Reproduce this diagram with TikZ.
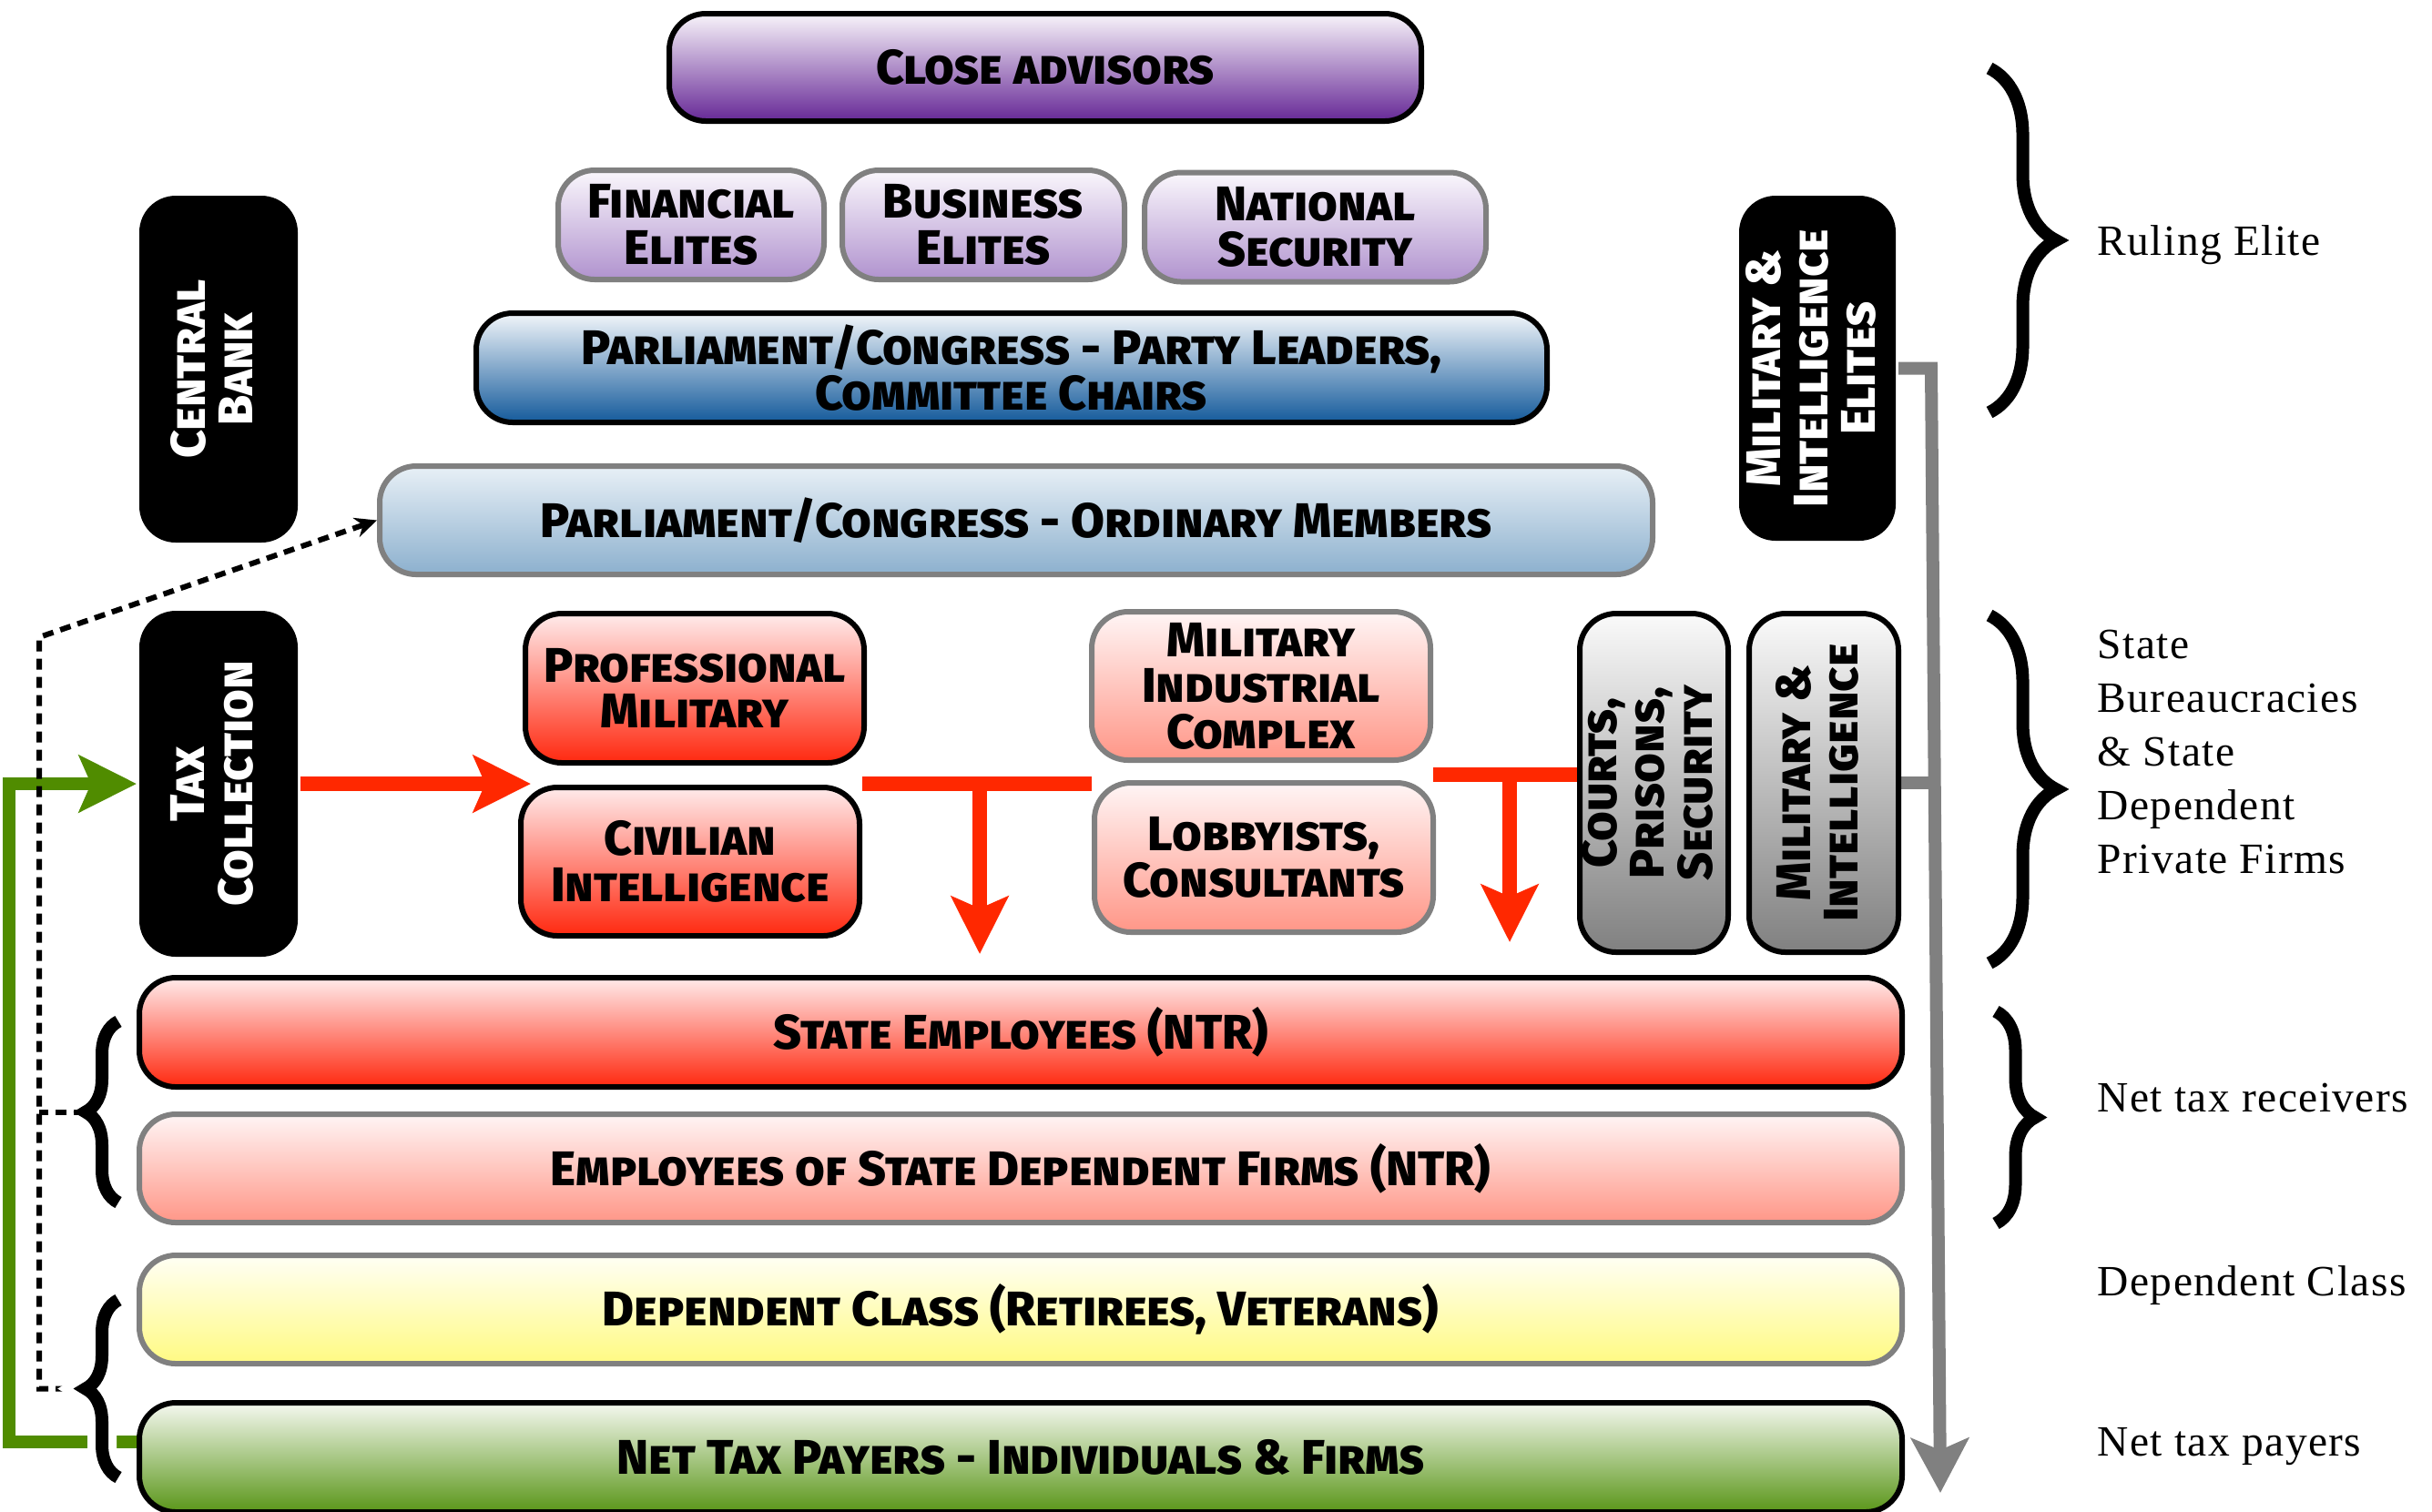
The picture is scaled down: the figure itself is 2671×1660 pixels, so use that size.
\documentclass[tikz,border=0pt]{standalone}
\usepackage{fontspec}
\usepackage{tikz}
\usetikzlibrary{arrows.meta, backgrounds, decorations.pathreplacing}

\IfFontExistsTF{Fira Sans ExtraBold}
  {\newfontfamily\boxfont{Fira Sans ExtraBold}[Letters=SmallCaps]}
  {\newfontfamily\boxfont{Fira Sans}[Letters=SmallCaps, UprightFont={* Bold}]}
\newfontfamily\sidefont{Liberation Serif}[LetterSpace=3]
\newcommand{\tiertext}{\boxfont\fontsize{15.2}{14.4}\selectfont}
\newcommand{\sidetext}{\sidefont\fontsize{13.5}{16.8}\selectfont}
\newcommand{\vlabel}[1]{\rotatebox{90}{\begin{tabular}{@{}c@{}}#1\end{tabular}}}

\definecolor{edgegray}{RGB}{128,128,128}
\definecolor{arrowred}{RGB}{255,40,0}
\definecolor{arrowgreen}{RGB}{80,140,0}
\definecolor{purpletop}{RGB}{248,244,250}
\definecolor{purplebot}{RGB}{102,40,150}
\definecolor{lavtop}{RGB}{250,247,252}
\definecolor{lavbot}{RGB}{176,146,206}
\definecolor{bluetop}{RGB}{242,246,250}
\definecolor{bluebot}{RGB}{20,90,155}
\definecolor{paletop}{RGB}{232,240,246}
\definecolor{palebot}{RGB}{140,176,206}
\definecolor{redtop}{RGB}{255,235,235}
\definecolor{redbot}{RGB}{255,40,15}
\definecolor{pinktop}{RGB}{255,245,245}
\definecolor{pinkbot}{RGB}{255,150,135}
\definecolor{graytop}{RGB}{250,250,250}
\definecolor{graybot}{RGB}{128,128,128}
\definecolor{yellowtop}{RGB}{255,255,245}
\definecolor{yellowbot}{RGB}{255,250,130}
\definecolor{greentop}{RGB}{245,248,240}
\definecolor{greenbot}{RGB}{90,150,25}

\tikzset{
  tier/.style={rounded corners=4mm, line width=0.6mm, inner sep=0pt, align=center, font=\tiertext, text=black},
  darkedge/.style={draw=black},
  softedge/.style={draw=edgegray},
  pillar/.style={tier, fill=black, draw=none, text=white},
  purpletier/.style={top color=purpletop, bottom color=purplebot},
  lavtier/.style={top color=lavtop, bottom color=lavbot},
  bluetier/.style={top color=bluetop, bottom color=bluebot},
  paletier/.style={top color=paletop, bottom color=palebot},
  redtier/.style={top color=redtop, bottom color=redbot},
  pinktier/.style={top color=pinktop, bottom color=pinkbot},
  graytier/.style={top color=graytop, bottom color=graybot},
  yellowtier/.style={top color=yellowtop, bottom color=yellowbot},
  greentier/.style={top color=greentop, bottom color=greenbot},
  bracestroke/.style={draw=black, line width=1.4mm, decorate, decoration={brace, amplitude=#1}},
  sidelabel/.style={anchor=west, inner sep=0pt, align=left, font=\sidetext},
  redline/.style={draw=arrowred, line width=1.6mm},
  redarrow/.style={redline, -{Stealth[length=6.3mm, width=6.2mm, inset=1.3mm]}},
  greenarrow/.style={draw=arrowgreen, line width=1.4mm, -{Stealth[length=6.3mm, width=6.2mm, inset=1.3mm]}},
  grayline/.style={draw=edgegray, line width=1.4mm},
  grayarrow/.style={grayline, -{Stealth[length=6mm, width=6.3mm, inset=1.3mm]}},
  dotline/.style={draw=black, line width=0.6mm, dash pattern=on 1.2mm off 0.8mm},
  dotarrow/.style={dotline, -{Stealth[length=2.4mm, width=2.2mm]}}
}

\begin{document}
\begin{tikzpicture}[x=0.1mm, y=-0.1mm]
\useasboundingbox (0,0) rectangle (2671,1660);

% ruling elite
\node[tier, darkedge, purpletier, minimum width=82.6mm, minimum height=11.8mm] (close) at (1148,74) {Close advisors};
\node[tier, softedge, lavtier, minimum width=29.2mm, minimum height=12mm] (fin) at (759,247) {Financial\\Elites};
\node[tier, softedge, lavtier, minimum width=31mm, minimum height=12mm] (bus) at (1080,247) {Business\\Elites};
\node[tier, softedge, lavtier, minimum width=37.5mm, minimum height=12mm] (nat) at (1444.5,249.5) {National\\Security};
\node[tier, darkedge, bluetier, minimum width=117.6mm, minimum height=12mm] (leaders) at (1111,404) {Parliament/Congress - Party Leaders,\\Committee Chairs};
\node[tier, softedge, paletier, minimum width=139.8mm, minimum height=11.9mm] (ordinary) at (1116,571.5) {Parliament/Congress - Ordinary Members};
\node[pillar, minimum width=17.4mm, minimum height=38.1mm] (cbank) at (240,405.5) {\vlabel{Central\\Bank}};
\node[pillar, minimum width=17.2mm, minimum height=37.9mm] (elites) at (1996,404.5) {\vlabel{Military \&\\Intelligence\\Elites}};

% state bureaucracies
\node[pillar, minimum width=17.4mm, minimum height=38mm] (tax) at (240,861) {\vlabel{Tax\\Collection}};
\node[tier, darkedge, redtier, minimum width=37.2mm, minimum height=16.4mm] (promil) at (763,756) {Professional\\Military};
\node[tier, darkedge, redtier, minimum width=37.2mm, minimum height=16.3mm] (civint) at (758,946.5) {Civilian\\Intelligence};
\node[tier, softedge, pinktier, minimum width=37.2mm, minimum height=16.3mm] (mic) at (1385,753.5) {Military\\Industrial\\Complex};
\node[tier, softedge, pinktier, minimum width=37.2mm, minimum height=16.4mm] (lobby) at (1388,942) {Lobbyists,\\Consultants};
\node[tier, darkedge, graytier, minimum width=16.3mm, minimum height=37.2mm] (courts) at (1816.5,860) {\vlabel{Courts,\\Prisons,\\Security}};
\node[tier, darkedge, graytier, minimum width=16.4mm, minimum height=37.2mm] (milint) at (2003,860) {\vlabel{Military \&\\Intelligence}};

% classes
\node[tier, darkedge, redtier, minimum width=193.6mm, minimum height=12mm] (stemp) at (1121,1134) {State Employees (NTR)};
\node[tier, softedge, pinktier, minimum width=193.6mm, minimum height=11.9mm] (empdep) at (1121,1283.5) {Employees of State Dependent Firms (NTR)};
\node[tier, softedge, yellowtier, minimum width=193.6mm, minimum height=11.9mm] (depcl) at (1121,1438.5) {Dependent Class (Retirees, Veterans)};
\node[tier, darkedge, greentier, minimum width=193.6mm, minimum height=12mm] (ntp) at (1121,1601) {Net Tax Payers - Individuals \& Firms};

% braces
\draw[bracestroke=7.3mm] (2185,75) -- (2185,453);
\draw[bracestroke=7.3mm] (2185,676) -- (2185,1058);
\draw[bracestroke=4.3mm] (2192,1111) -- (2192,1344);
\draw[bracestroke=3.6mm] (130,1321) -- (130,1122);
\draw[bracestroke=3.6mm, preaction={draw=white, line width=3.2mm}] (130,1623) -- (130,1428);
\coordinate (ntrtip) at (93,1221.5);
\coordinate (ntptip) at (93,1525.5);

\node[sidelabel] (ruling) at (2303,269) {Ruling Elite};
\node[sidelabel] (bureau) at (2303,826) {State\\Bureaucracies\\\& State\\Dependent\\Private Firms};
\node[sidelabel] (receivers) at (2303,1206) {Net tax receivers};
\node[sidelabel] (depclass) at (2303,1412) {Dependent Class};
\node[sidelabel] (payers) at (2303,1589) {Net tax payers};

\coordinate (hit) at (583,861);
\coordinate (drop1) at (1076,1048);
\coordinate (split2) at (1658,851);
\coordinate (drop2) at (1658,1035);
\coordinate (gturn) at (2121,404.5);
\coordinate (gend) at (2131,1640);
\coordinate (gleft) at (10,1584);
\coordinate (dleft) at (43,700);

\begin{scope}[on background layer]
\draw[redarrow] (tax.east) -- (hit);
\draw[redline] (civint.east |- hit) -- (lobby.west |- hit);
\draw[redarrow] (drop1 |- hit) -- (drop1);
\draw[redline] (mic.east |- split2) -- (courts.west |- split2);
\draw[redarrow] (split2) -- (drop2);
\draw[grayarrow] (elites.east) -- (gturn) -- (gend);
\draw[grayline] (milint.east) -- (milint.east -| gturn);
\draw[greenarrow] (ntp.west |- gleft) -- (gleft) |- (tax.west);
\draw[dotline] (ntrtip) -- (dleft |- ntrtip);
\draw[dotarrow] (ntptip) -- (dleft |- ntptip) -- (dleft) -- (ordinary.west);
\end{scope}
\end{tikzpicture}
\end{document}
